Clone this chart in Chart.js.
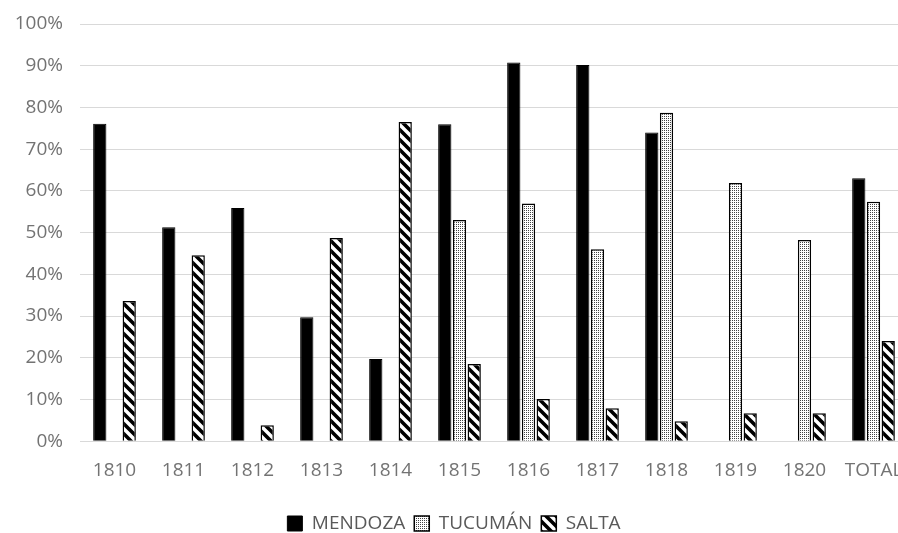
<!DOCTYPE html>
<html>
<head>
<meta charset="utf-8">
<script src="https://cdn.jsdelivr.net/npm/chart.js@4.4.1/dist/chart.umd.min.js"></script>
<style>
  html, body { margin: 0; padding: 0; background: #fff; overflow: hidden; }
  #wrap { width: 898px; height: 533px; overflow: hidden; }
</style>
</head>
<body>
<div id="wrap"><canvas id="chart" width="924" height="543"></canvas></div>
<script>
const categories = ['1810', '1811', '1812', '1813', '1814', '1815', '1816', '1817', '1818', '1819', '1820', 'TOTAL'];
const mendoza = [76.1, 51.3, 55.9, 29.7, 19.7, 76.0, 90.8, 90.2, 74.0, null, null, 63.0];
const tucuman = [null, null, null, null, null, 53.0, 57.0, 46.0, 78.7, 61.9, 48.2, 57.4];
const salta = [33.6, 44.6, 3.8, 48.7, 76.5, 18.5, 10.1, 7.9, 4.8, 6.7, 6.7, 24.0];
const yMax = 100;
const yStep = 10;

// hatch fills like the Excel pattern fills
function dotPattern() {
  const c = document.createElement('canvas');
  c.width = 2; c.height = 2;
  const g = c.getContext('2d');
  g.fillStyle = '#fff';
  g.fillRect(0, 0, 2, 2);
  g.fillStyle = '#444';
  g.fillRect(0, 0, 1, 1);
  return g.createPattern(c, 'repeat');
}

function stripePattern() {
  const s = 10;
  const c = document.createElement('canvas');
  c.width = s; c.height = s;
  const g = c.getContext('2d');
  g.fillStyle = '#fff';
  g.fillRect(0, 0, s, s);
  g.strokeStyle = '#000';
  g.lineWidth = 3.6;
  g.beginPath();
  g.moveTo(-s, 0); g.lineTo(s, 2 * s);
  g.moveTo(0, 0); g.lineTo(s, s);
  g.moveTo(0, -s); g.lineTo(2 * s, s);
  g.stroke();
  return g.createPattern(c, 'repeat');
}

const ctx = document.getElementById('chart').getContext('2d');
const font = "'Open Sans', 'Noto Sans', sans-serif";
const textColor = '#737373';

new Chart(ctx, {
  type: 'bar',
  data: {
    labels: categories,
    datasets: [
      { label: 'MENDOZA', data: mendoza, backgroundColor: '#000', borderColor: '#000', borderWidth: 1 },
      { label: 'TUCUMÁN', data: tucuman, backgroundColor: dotPattern(), borderColor: '#000', borderWidth: 1.5 },
      { label: 'SALTA', data: salta, backgroundColor: stripePattern(), borderColor: '#000', borderWidth: 1.5 },
    ],
  },
  options: {
    responsive: false,
    animation: false,
    categoryPercentage: 0.64,
    barPercentage: 0.9,
    layout: { padding: { top: 24, right: 16, left: 0, bottom: 0 } },
    plugins: {
      legend: {
        position: 'bottom',
        labels: {
          font: { family: font, size: 19 },
          color: '#595959',
          boxWidth: 15,
          boxHeight: 15,
          padding: 9,
        },
      },
      tooltip: { enabled: false },
    },
    scales: {
      x: {
        grid: { display: false, drawTicks: false },
        border: { display: false },
        ticks: { font: { family: font, size: 19 }, color: textColor, padding: 18 },
        afterFit: (scale) => { scale.height += 5; },
      },
      y: {
        min: 0,
        max: yMax,
        grid: { color: '#d9d9d9', drawTicks: false },
        border: { display: false },
        ticks: {
          stepSize: yStep,
          font: { family: font, size: 19 },
          color: textColor,
          padding: 17,
          callback: (v) => v + '%',
        },
        afterFit: (scale) => {
          scale.width = 80;
          scale.paddingTop = 0;
          scale.paddingBottom = 0;
        },
      },
    },
  },
});
</script>
</body>
</html>
